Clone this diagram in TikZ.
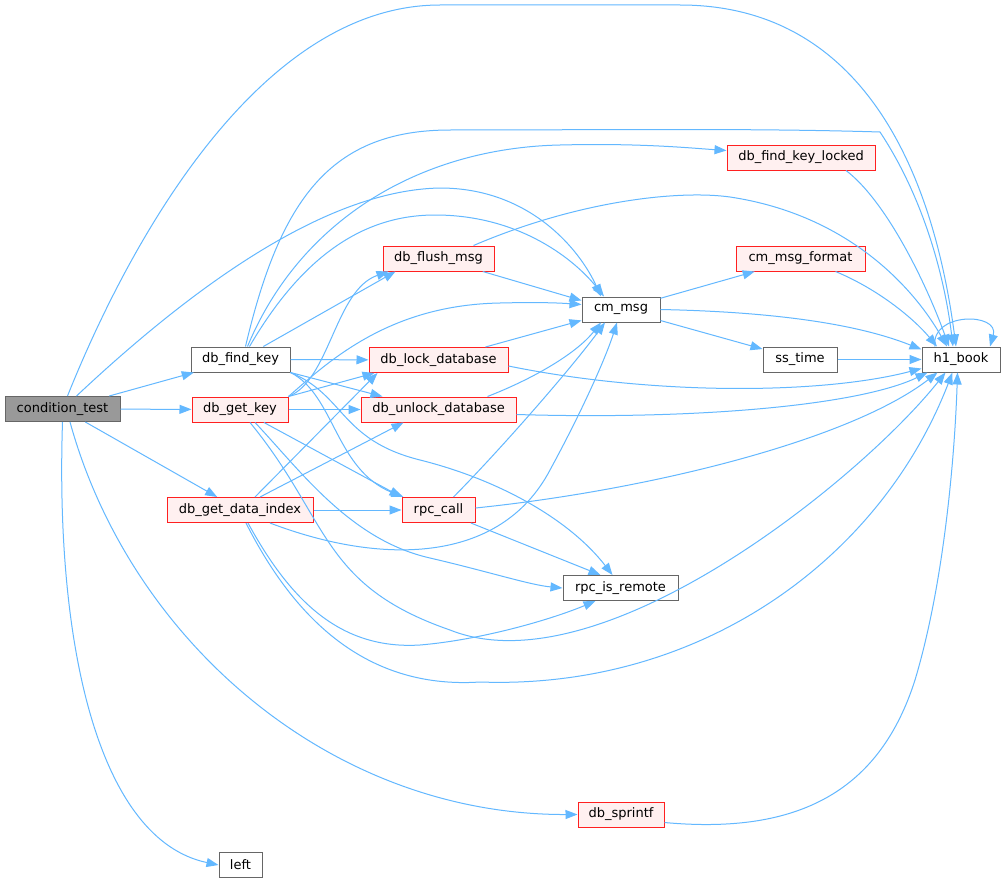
\documentclass[tikz,border=0pt]{standalone}
\usepackage{fontspec}
\setmainfont{DejaVu Sans}
\usetikzlibrary{arrows.meta}
\definecolor{edgec}{HTML}{63B8FF}
\definecolor{bordg}{HTML}{666666}
\definecolor{bordr}{HTML}{FF2020}
\definecolor{fillr}{HTML}{FFF0F0}
\definecolor{fillg}{HTML}{999999}
\tikzset{
  nb/.style={draw=bordg, fill=white, line width=1pt, minimum height=25pt, inner sep=0pt, font=\fontsize{13pt}{15pt}\selectfont},
  nr/.style={nb, draw=bordr, fill=fillr},
  ng/.style={nb, fill=fillg},
  edge/.style={draw=edgec, line width=1pt, -{Triangle[length=12pt,width=9pt]}},
}
\begin{document}
\begin{tikzpicture}[x=1pt,y=-1pt]
\fill[white] (0,0) rectangle (1005,883);
\useasboundingbox (0,0) rectangle (1005,883);
% nodes
\node[ng, minimum width=115pt] (ct) at (62.5,409) {condition\_test};
\node[nb, minimum width=99pt] (fk) at (240.5,359.5) {db\_find\_key};
\node[nr, minimum width=96pt] (gk) at (240,409.5) {db\_get\_key};
\node[nr, minimum width=146pt] (gdi) at (240,510) {db\_get\_data\_index};
\node[nr, minimum width=86pt] (sp) at (621,814.5) {db\_sprintf};
\node[nb, minimum width=43pt] (lf) at (240.5,865) {left};
\node[nr, minimum width=111pt] (fm) at (438.5,258.5) {db\_flush\_msg};
\node[nr, minimum width=139pt] (ld) at (438.5,360) {db\_lock\_database};
\node[nr, minimum width=155pt] (ud) at (438.5,409.5) {db\_unlock\_database};
\node[nr, minimum width=73pt] (rc) at (438.5,510) {rpc\_call};
\node[nb, minimum width=78pt] (cm) at (621,309.5) {cm\_msg};
\node[nb, minimum width=115pt] (rr) at (620.5,588) {rpc\_is\_remote};
\node[nr, minimum width=148pt] (fkl) at (801,157.5) {db\_find\_key\_locked};
\node[nr, minimum width=129pt] (cmf) at (800.5,258.5) {cm\_msg\_format};
\node[nb, minimum width=74pt] (st) at (800,359.5) {ss\_time};
\node[nb, minimum width=78pt] (h1) at (961,359.5) {h1\_book};
% edges from condition_test
\draw[edge] (ct) -- (fk);
\draw[edge] (ct) -- (gk);
\draw[edge] (ct) -- (gdi);
\draw[edge] ([xshift=7.5pt]ct.south) .. controls (130,640) and (330,815) .. (sp.west);
\draw[edge] (ct.south) .. controls (55,650) and (100,840) .. (lf.west);
\draw[edge] ([xshift=5pt]ct.north) .. controls (130,240) and (260,5) .. (440,5) -- (680,5) .. controls (850,5) and (930,150) .. ([xshift=-5pt]h1.north);
\draw[edge] ([xshift=14pt]ct.north) .. controls (200,280) and (330,190) .. (440,188) .. controls (530,188) and (580,250) .. ([xshift=-20pt]cm.north);
% edges from db_find_key
\draw[edge] ([xshift=5pt]fk.north) .. controls (280,200) and (330,130) .. (450,130) .. controls (600,130) and (750,128) .. (880,132) .. controls (925,200) and (945,280) .. ([xshift=-8pt]h1.north);
\draw[edge] ([xshift=7pt]fk.north) .. controls (300,220) and (420,148) .. (560,145) .. controls (640,143) and (690,148) .. ([yshift=7pt]fkl.west);
\draw[edge] ([xshift=9pt]fk.north) .. controls (300,260) and (360,215) .. (435,215) .. controls (520,215) and (575,260) .. ([xshift=-17pt]cm.north);
\draw[edge] (fk) -- ([xshift=-43pt]fm.south);
\draw[edge] (fk) -- (ld);
\draw[edge] (fk.south east) -- ([xshift=22pt]ud.north west);
\draw[edge] (fk.south east) .. controls (335,395) and (335,470) .. ([xshift=2pt]rc.north west);
\draw[edge] (fk.south east) .. controls (345,395) and (340,440) .. (420,460) .. controls (500,480) and (570,520) .. ([xshift=-8pt]rr.north);
% edges from db_get_key
\draw[edge] (gk.north east) .. controls (330,380) and (335,290) .. ([xshift=-50pt]fm.south);
\draw[edge] (gk.north east) .. controls (330,360) and (390,305) .. (500,303) .. controls (540,302) and (560,303) .. ([yshift=5pt]cm.west);
\draw[edge] (gk.north east) -- ([xshift=6pt]ld.south west);
\draw[edge] (gk) -- (ud);
\draw[edge] (gk) -- (rc.north west);
\draw[edge] ([xshift=15pt]gk.south) .. controls (300,470) and (350,540) .. (430,558) .. controls (490,572) and (530,585) .. (rr.west);
\draw[edge] ([xshift=10pt]gk.south) .. controls (330,520) and (320,585) .. (450,630) .. controls (600,690) and (860,480) .. ([xshift=24pt]h1.south west);
% edges from db_get_data_index
\draw[edge] ([xshift=15pt]gdi.north) -- ([xshift=9pt]ld.south west);
\draw[edge] ([xshift=20pt]gdi.north) -- ([xshift=-35pt]ud.south);
\draw[edge] (gdi) -- (rc);
\draw[edge] ([xshift=30pt]gdi.south) .. controls (380,565) and (500,565) .. (550,470) .. controls (580,415) and (605,360) .. ([xshift=-4pt]cm.south);
\draw[edge] ([xshift=8pt]gdi.south) .. controls (290,600) and (340,650) .. (420,645) .. controls (480,640) and (550,620) .. ([xshift=-25pt]rr.south);
\draw[edge] ([xshift=6pt]gdi.south) .. controls (290,610) and (360,690) .. (480,682) .. controls (700,690) and (880,560) .. ([xshift=31pt]h1.south west);
% other edges
\draw[edge] (fm) -- ([yshift=9pt]cm.west);
\draw[edge] ([xshift=35pt]fm.north) .. controls (580,200) and (680,190) .. (730,197) .. controls (850,215) and (915,290) .. ([xshift=-14pt]h1.north);
\draw[edge] (ld) -- (cm);
\draw[edge] ([yshift=-6pt]ld.east) .. controls (650,395) and (820,395) .. ([yshift=4pt]h1.south west);
\draw[edge] ([xshift=49pt]ud.north) .. controls (530,380) and (575,355) .. ([xshift=-20pt]cm.south);
\draw[edge] ([yshift=-5pt]ud.east) .. controls (700,420) and (860,405) .. ([xshift=6pt]h1.south west);
\draw[edge] ([xshift=15pt]rc.north) .. controls (500,450) and (570,370) .. ([xshift=-16pt]cm.south);
\draw[edge] ([yshift=2pt]rc.east) .. controls (650,490) and (850,440) .. ([xshift=16pt]h1.south west);
\draw[edge] (rc) -- ([xshift=-20pt]rr.north);
\draw[edge] (cm) -- (cmf);
\draw[edge] (cm.east) .. controls (780,312) and (860,325) .. ([yshift=10pt]h1.west);
\draw[edge] (cm) -- (st);
\draw[edge] ([xshift=35pt]cmf.south) .. controls (880,290) and (915,320) .. ([xshift=-24pt]h1.north);
\draw[edge] (st) -- (h1);
\draw[edge] ([xshift=45pt]fkl.south) .. controls (885,200) and (925,280) .. ([xshift=-12pt]h1.north);
\draw[edge] ([xshift=-26pt]h1.north) .. controls (930,312) and (1000,312) .. ([xshift=29pt]h1.north);
\draw[edge] ([yshift=-8pt]sp.east) .. controls (800,835) and (880,790) .. (915,680) .. controls (945,580) and (955,450) .. ([xshift=36pt]h1.south west);
\end{tikzpicture}
\end{document}
